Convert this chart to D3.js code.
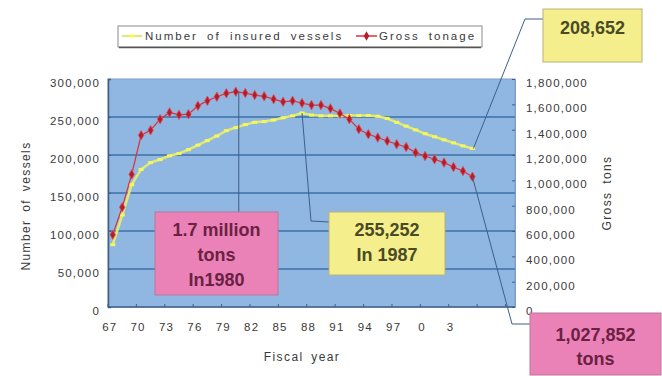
<!DOCTYPE html>
<html>
  <head>
    <meta charset="utf-8">
    <title>Insured vessels and gross tonnage</title>
    <script src="https://cdn.jsdelivr.net/npm/d3@7"></script>
    <style>
      body { margin: 0; background: #fff; }
      svg { display: block; }
    </style>
  </head>
  <body>
    <svg></svg>
    <script>
      // categories on the axis run a few years past the data
      let categories = d3.range(1967, 2010);
      let years = d3.range(1967, 2006);
      let tickYears = [1967, 1970, 1973, 1976, 1979, 1982, 1985, 1988, 1991, 1994, 1997, 2000, 2003];

      let vessels = [82000, 121000, 161000, 181000, 190000, 194000, 199000, 202000, 207000, 213000,
                     219000, 225000, 232000, 236000, 240000, 243000, 244000, 246000, 249000, 251500,
                     255252, 252500, 251500, 251500, 251500, 252000, 252000, 252000, 251000, 248000,
                     243000, 238000, 233000, 228000, 224000, 220000, 216000, 212000, 208652];

      let tonnage = [571000, 787000, 1047000, 1356000, 1396000, 1483000, 1536000, 1517000, 1522000, 1588000,
                     1628000, 1660000, 1687000, 1700000, 1689000, 1673000, 1663000, 1641000, 1620000, 1628000,
                     1610000, 1594000, 1594000, 1568000, 1528000, 1483000, 1404000, 1364000, 1338000, 1311000,
                     1285000, 1263000, 1219000, 1192000, 1166000, 1140000, 1105000, 1073000, 1027852];

      let leftTicks = [0, 50000, 100000, 150000, 200000, 250000, 300000];
      let rightTicks = d3.range(0, 1800001, 200000);

      let w = 662, h = 376;
      let plot = {left: 108, right: 515, top: 79, bottom: 307};
      let fontFamily = `'Liberation Sans', Arial, sans-serif`;

      let svg = d3.select("svg").attr("width", w).attr("height", h);

      let x = d3.scaleBand().domain(categories).range([plot.left, plot.right]);
      let cx = yr => x(yr) + x.bandwidth() / 2;
      let yL = d3.scaleLinear().domain([0, 300000]).range([plot.bottom, plot.top]);
      let yR = d3.scaleLinear().domain([0, 1800000]).range([plot.bottom, plot.top]);

      let fmt = d3.format(",");

      //plot background
      svg.append("rect")
         .attr("x", plot.left).attr("y", plot.top)
         .attr("width", plot.right - plot.left).attr("height", plot.bottom - plot.top)
         .attr("fill", "#90b7e2")
         .attr("stroke", "#7f9fc6");

      //gridlines
      svg.append("g")
         .selectAll("line")
         .data(leftTicks.slice(1, -1))
         .enter().append("line")
         .attr("x1", plot.left).attr("x2", plot.right)
         .attr("y1", d => yL(d)).attr("y2", d => yL(d))
         .attr("stroke", "#5182b6")
         .attr("stroke-width", 2);

      //left axis
      let leftAxis = svg.append("g")
         .attr("transform", `translate(${plot.left},0)`)
         .call(d3.axisLeft(yL).tickValues(leftTicks).tickSize(-3).tickPadding(8).tickFormat(fmt));
      leftAxis.select(".domain").attr("stroke", "#3d5f88").attr("stroke-width", 1.5);

      //right axis
      let rightAxis = svg.append("g")
         .attr("transform", `translate(${plot.right},0)`)
         .call(d3.axisRight(yR).tickValues(rightTicks).tickSize(-3).tickPadding(11).tickFormat(fmt));
      rightAxis.select(".domain").attr("stroke", "#7f9fc6");

      //bottom axis
      let tickBounds = d3.range(0, categories.length + 1, 3).map(i => plot.left + i * x.step());
      let bottomAxis = svg.append("g");
      bottomAxis.append("line")
         .attr("x1", plot.left).attr("x2", plot.right)
         .attr("y1", plot.bottom).attr("y2", plot.bottom)
         .attr("stroke", "#3d5f88").attr("stroke-width", 1.5);
      bottomAxis.selectAll(".xtick")
         .data(tickBounds)
         .enter().append("line")
         .attr("class", "xtick")
         .attr("x1", d => d).attr("x2", d => d)
         .attr("y1", plot.bottom).attr("y2", plot.bottom - 3)
         .attr("stroke", "#3d5f88");
      bottomAxis.selectAll("text")
         .data(tickYears)
         .enter().append("text")
         .attr("x", d => cx(d) - 3)
         .attr("y", plot.bottom + 24)
         .attr("text-anchor", "middle")
         .text(d => String(d % 100));

      [leftAxis, rightAxis].forEach(a => {
        a.selectAll(".tick line").attr("stroke", "#3d5f88");
        a.selectAll(".tick text").attr("dy", "0.65em");
      });

      svg.selectAll("g text")
         .attr("font-family", fontFamily)
         .attr("font-size", 11.5)
         .attr("letter-spacing", 1.2)
         .attr("fill", "#3a3a3a");

      //axis titles
      let title = (tx, ty, rot, txt) => svg.append("text")
         .attr("transform", `translate(${tx},${ty}) rotate(${rot})`)
         .attr("text-anchor", "middle")
         .attr("font-family", fontFamily)
         .attr("font-size", 12)
         .attr("letter-spacing", 1.4)
         .attr("word-spacing", 3)
         .attr("fill", "#3a3a3a")
         .text(txt);
      title(30, 206, -90, "Number of vessels");
      title(611, 193, -90, "Gross tons");
      title(302, 361, 0, "Fiscal year");

      //series
      let vesselLine = d3.line().x((d, i) => cx(years[i])).y(d => yL(d));
      let tonLine = d3.line().x((d, i) => cx(years[i])).y(d => yR(d));

      svg.append("path")
         .attr("d", vesselLine(vessels))
         .attr("fill", "none")
         .attr("stroke", "#dfea72")
         .attr("stroke-width", 2.5);
      svg.append("g")
         .selectAll("rect")
         .data(vessels)
         .enter().append("rect")
         .attr("x", (d, i) => cx(years[i]) - 2.5)
         .attr("y", d => yL(d) - 1.5)
         .attr("width", 5).attr("height", 3)
         .attr("fill", "#f8f65c");

      svg.append("path")
         .attr("d", tonLine(tonnage))
         .attr("fill", "none")
         .attr("stroke", "#d8333a")
         .attr("stroke-width", 1.2);
      svg.append("g")
         .selectAll("path")
         .data(tonnage)
         .enter().append("path")
         .attr("transform", (d, i) => `translate(${cx(years[i])},${yR(d)})`)
         .attr("d", d3.symbol(d3.symbolDiamond, 26))
         .attr("fill", "#b31d2a")
         .attr("stroke", "#e0505a")
         .attr("stroke-width", 0.8);

      //legend
      let legend = svg.append("g");
      legend.append("rect")
         .attr("x", 118).attr("y", 26).attr("width", 364).attr("height", 21)
         .attr("fill", "#fff")
         .attr("stroke", "#8a8a8a");
      legend.append("line")
         .attr("x1", 119).attr("x2", 481).attr("y1", 47.5).attr("y2", 47.5)
         .attr("stroke", "#555").attr("stroke-width", 1.5);
      legend.append("line")
         .attr("x1", 122).attr("x2", 142).attr("y1", 36).attr("y2", 36)
         .attr("stroke", "#dfea72").attr("stroke-width", 2);
      legend.append("rect")
         .attr("x", 129.5).attr("y", 34.5).attr("width", 5).attr("height", 3)
         .attr("fill", "#f8f65c");
      legend.append("line")
         .attr("x1", 356).attr("x2", 377).attr("y1", 36).attr("y2", 36)
         .attr("stroke", "#d8333a").attr("stroke-width", 1.5);
      legend.append("path")
         .attr("transform", "translate(366.5,36)")
         .attr("d", d3.symbol(d3.symbolDiamond, 26))
         .attr("fill", "#b31d2a");
      legend.selectAll("text")
         .data([{x: 145, t: "Number of insured vessels"}, {x: 379, t: "Gross tonage"}])
         .enter().append("text")
         .attr("x", d => d.x).attr("y", 40)
         .attr("font-family", fontFamily)
         .attr("font-size", 11.5)
         .attr("letter-spacing", 2)
         .attr("word-spacing", 4)
         .attr("fill", "#3a3a3a")
         .text(d => d.t);

      //callouts
      let lineColor = "#3d5f88";
      let leader = pts => svg.append("path")
         .attr("d", d3.line()(pts))
         .attr("fill", "none")
         .attr("stroke", lineColor)
         .attr("stroke-width", 1);

      let peakYear = years[d3.maxIndex(tonnage)];
      let maxVesselYear = years[d3.maxIndex(vessels)];
      let last = years.length - 1;

      leader([[cx(peakYear) + 3, yR(d3.max(tonnage))], [cx(peakYear) + 3, 212]]);
      leader([[cx(maxVesselYear), yL(d3.max(vessels))], [311, 221], [329, 222]]);
      leader([[cx(years[last]) + 1, yL(vessels[last])], [525, 19], [543, 19]]);
      leader([[cx(years[last]), yR(tonnage[last])], [512, 324], [530, 324]]);

      let box = (bx, by, bw, bh, fill, stroke, color, lines, ly) => {
        svg.append("rect")
           .attr("x", bx).attr("y", by).attr("width", bw).attr("height", bh)
           .attr("fill", fill).attr("stroke", stroke);
        svg.append("g").selectAll("text")
           .data(lines)
           .enter().append("text")
           .attr("x", bx + bw / 2)
           .attr("y", (d, i) => ly[i])
           .attr("text-anchor", "middle")
           .attr("font-family", fontFamily)
           .attr("font-size", 18)
           .attr("font-weight", "bold")
           .attr("fill", color)
           .text(d => d);
      };

      let pink = "#ea82b8", pinkStroke = "#b8769a", pinkText = "#6a2142";
      let yellow = "#f4ef8c", yellowStroke = "#b7b27a", yellowText = "#4a4a26";

      box(155, 212, 123, 83, pink, pinkStroke, pinkText,
          ["1.7 million", "tons", "In" + peakYear], [236, 261, 286]);
      box(329, 212, 116, 63, yellow, yellowStroke, yellowText,
          [fmt(d3.max(vessels)), "In " + maxVesselYear], [236, 261]);
      box(543, 9, 99, 53, yellow, yellowStroke, yellowText,
          [fmt(vessels[last])], [34]);
      box(530, 313, 131, 62, pink, pinkStroke, pinkText,
          [fmt(tonnage[last]), "tons"], [341, 365]);
    </script>
  </body>
</html>
